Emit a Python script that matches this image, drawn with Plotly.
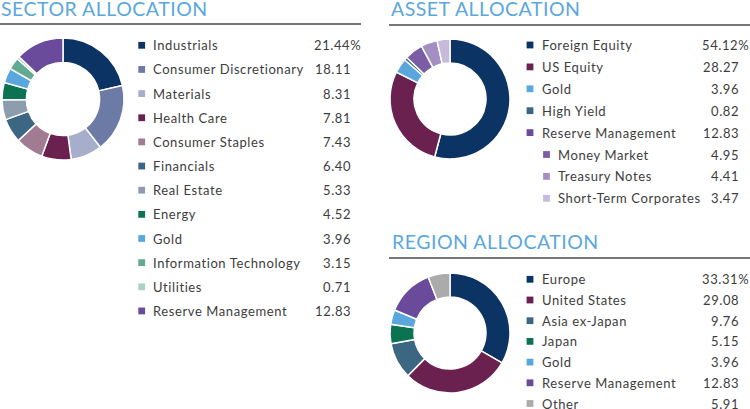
import plotly.graph_objects as go

# ---------------- data ----------------
sector_labels = ["Industrials", "Consumer Discretionary", "Materials", "Health Care",
                 "Consumer Staples", "Financials", "Real Estate", "Energy", "Gold",
                 "Information Technology", "Utilities", "Reserve Management"]
sector_values = [21.44, 18.11, 8.31, 7.81, 7.43, 6.40, 5.33, 4.52, 3.96, 3.15, 0.71, 12.83]

asset_labels = ["Foreign Equity", "US Equity", "Gold", "High Yield", "Reserve Management",
                "Money Market", "Treasury Notes", "Short-Term Corporates"]
asset_values = [54.12, 28.27, 3.96, 0.82, 12.83, 4.95, 4.41, 3.47]
asset_is_sub = [False, False, False, False, False, True, True, True]
asset_is_parent = [False, False, False, False, True, False, False, False]

region_labels = ["Europe", "United States", "Asia ex-Japan", "Japan", "Gold",
                 "Reserve Management", "Other"]
region_values = [33.31, 29.08, 9.76, 5.15, 3.96, 12.83, 5.91]

# ---------------- styles ----------------
NAVY = "#0B3364"; SLATE = "#6C7BA5"; LAV = "#A7AECB"; PLUM = "#6A2150"; MAUVE = "#A07B92"
TEAL = "#3C6782"; GRAYBLUE = "#8E9DAE"; GREEN = "#0C7352"; LBLUE = "#5AA7DE"
SEA = "#62AA93"; PALE = "#A9D3C3"; PURPLE = "#6A4A9B"; MM = "#7B5DA6"; TN = "#A38FC2"
STC = "#C6BBDD"; GRAY = "#ABABAB"

sector_colors = [NAVY, SLATE, LAV, PLUM, MAUVE, TEAL, GRAYBLUE, GREEN, LBLUE, SEA, PALE, PURPLE]
asset_colors = [NAVY, PLUM, LBLUE, TEAL, PURPLE, MM, TN, STC]
region_colors = [NAVY, PLUM, TEAL, GREEN, LBLUE, PURPLE, GRAY]

W, H = 750, 409
FONT = "Lato"
TEXT_COLOR = "#3d3d3d"
TITLE_COLOR = "#5AA7DE"
TXT_SPACING = "0.6px"
TITLE_SPACING = "0.5px"


def px(x):
    return x / W


def py(y):
    return 1 - y / H


def spaced(text, sp):
    return f'<span style="letter-spacing:{sp}">{text}</span>'


fig = go.Figure()


def add_pie(labels, values, colors, cx, cy, r):
    fig.add_trace(go.Pie(
        labels=labels, values=values, sort=False, direction="clockwise", rotation=0,
        hole=0.6, textinfo="none", hoverinfo="label+value",
        marker=dict(colors=colors, line=dict(color="white", width=1.5)),
        domain=dict(x=[px(cx - r), px(cx + r)], y=[py(cy + r), py(cy - r)]),
        showlegend=False,
    ))


# pies (asset pie excludes the parent "Reserve Management" row, its parts are drawn)
add_pie(sector_labels, sector_values, sector_colors, 63, 99, 61)
add_pie([l for l, p in zip(asset_labels, asset_is_parent) if not p],
        [v for v, p in zip(asset_values, asset_is_parent) if not p],
        [c for c, p in zip(asset_colors, asset_is_parent) if not p], 450, 99, 60)
add_pie(region_labels, region_values, region_colors, 450, 333, 60)

shapes = []
annotations = []


def title(text, x, y, x0, x1, ry):
    annotations.append(dict(text=spaced(text, TITLE_SPACING), x=px(x), y=py(y), xref="paper", yref="paper",
                            xanchor="left", yanchor="middle", showarrow=False, borderpad=0,
                            font=dict(family=FONT, size=19.5, color=TITLE_COLOR)))
    shapes.append(dict(type="line", xref="paper", yref="paper", x0=px(x0), x1=px(x1),
                       y0=py(ry), y1=py(ry), line=dict(color="#4a4a4a", width=1.5)))


def legend(labels, values, colors, sq_x, txt_x, num_right, y0, dy, subs=None):
    for i, (lab, val, col) in enumerate(zip(labels, values, colors)):
        y = y0 + i * dy
        indent = 16.5 if (subs and subs[i]) else 0
        sx = sq_x + indent
        shapes.append(dict(type="rect", xref="paper", yref="paper",
                           x0=px(sx - 3.4), x1=px(sx + 3.4), y0=py(y + 3.4), y1=py(y - 3.4),
                           fillcolor=col, line=dict(width=0)))
        annotations.append(dict(text=spaced(lab, TXT_SPACING), x=px(txt_x + indent - 1), y=py(y),
                                xref="paper", yref="paper", borderpad=0,
                                xanchor="left", yanchor="middle", showarrow=False,
                                font=dict(family=FONT, size=13, color=TEXT_COLOR)))
        num = f"{val:.2f}"
        right = num_right
        if i == 0:
            num += "%"
            right = num_right + 10
        annotations.append(dict(text=spaced(num, TXT_SPACING), x=px(right + 1), y=py(y),
                                xref="paper", yref="paper", borderpad=0,
                                xanchor="right", yanchor="middle", showarrow=False,
                                font=dict(family=FONT, size=13, color=TEXT_COLOR)))


title("SECTOR ALLOCATION", -0.5, 8.5, 0, 361, 24)
title("ASSET ALLOCATION", 389.5, 8.5, 389, 750, 25)
title("REGION ALLOCATION", 390.5, 241.7, 389, 750, 258)

legend(sector_labels, sector_values, sector_colors, 141.7, 152.7, 351, 45.3, 24.15)
legend(asset_labels, asset_values, asset_colors, 530, 541.7, 739, 45, 21.9, subs=asset_is_sub)
legend(region_labels, region_values, region_colors, 530, 541.7, 739, 279.3, 20.7)

fig.update_layout(
    width=W, height=H, margin=dict(l=0, r=0, t=0, b=0),
    paper_bgcolor="white", plot_bgcolor="white",
    shapes=shapes, annotations=annotations, showlegend=False,
)

fig.write_html("out.html", config={"displayModeBar": False},
               post_script="document.body.style.margin='0';")
